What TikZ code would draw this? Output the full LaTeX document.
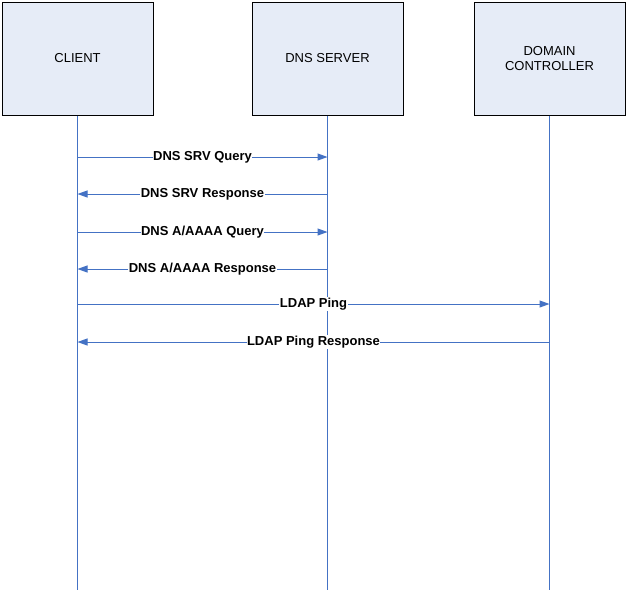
\documentclass[tikz,border=0pt]{standalone}
\usepackage{fontspec}
\setmainfont{Liberation Sans}
\usetikzlibrary{arrows.meta}
\usetikzlibrary{positioning}
\definecolor{lifeblue}{HTML}{4472C4}
\definecolor{boxfill}{HTML}{E6ECF7}
\tikzstyle{party} = [rectangle, draw=black, fill=boxfill, line width=1pt,
    minimum width=151pt, minimum height=113pt, align=center,
    font=\fontsize{13}{15}\selectfont]
\tikzstyle{lifeline} = [draw=lifeblue, line width=1pt]
\tikzstyle{line} = [draw=lifeblue, line width=1pt, -{Triangle[length=10pt, width=7pt]}]
\tikzstyle{msg} = [fill=white, inner sep=0.5pt, font=\bfseries\fontsize{13}{15}\selectfont]

\begin{document}
\begin{tikzpicture}[x=1pt, y=-1pt]
  \useasboundingbox (0,0) rectangle (628,590);
  % Place nodes
  \node [party] (client) at (77.5,58.5) {CLIENT};
  \node [party, right=98pt of client] (dns) {DNS SERVER};
  \node [party, right=70pt of dns] (dc) {DOMAIN\\CONTROLLER};

  % Lifelines
  \coordinate (clientend) at (client.center |- 0,590);
  \coordinate (dnsend) at (dns.center |- 0,590);
  \coordinate (dcend) at (dc.center |- 0,590);
  \path [lifeline] (client.south) -- (clientend);
  \path [lifeline] (dns.south) -- (dnsend);
  \path [lifeline] (dc.south) -- (dcend);

  % Draw messages
  \path [line] (client.center |- 0,157) -- node [msg] {DNS SRV Query} (dns.center |- 0,157);
  \path [line] (dns.center |- 0,194) -- node [msg] {DNS SRV Response} (client.center |- 0,194);
  \path [line] (client.center |- 0,232) -- node [msg] {DNS A/AAAA Query} (dns.center |- 0,232);
  \path [line] (dns.center |- 0,269) -- node [msg] {DNS A/AAAA Response} (client.center |- 0,269);
  \path [line] (client.center |- 0,304) -- node [msg] {LDAP Ping} (dc.center |- 0,304);
  \path [line] (dc.center |- 0,342) -- node [msg] {LDAP Ping Response} (client.center |- 0,342);
\end{tikzpicture}
\end{document}
